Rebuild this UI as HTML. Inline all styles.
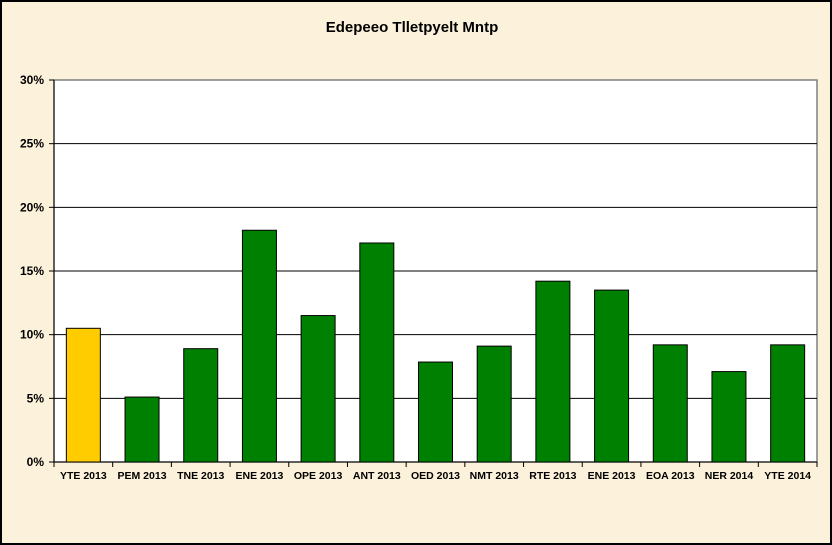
<!DOCTYPE html>
<html><head><meta charset="utf-8"><style>
html,body{margin:0;padding:0;}
body{width:832px;height:545px;overflow:hidden;background:#fcf1da;}
svg{display:block;font-family:"Liberation Sans",Arial,sans-serif;}
</style></head><body>
<svg id="chart" width="832" height="545">
<rect x="1" y="1" width="830" height="543" fill="#fcf1da" stroke="#000" stroke-width="2"/>
<text x="412" y="32" text-anchor="middle" font-size="15" font-weight="bold">Edepeeo Tlletpyelt Mntp</text>
<rect x="54" y="80" width="763" height="382" fill="#fff" stroke="#808080" stroke-width="1.5"/>
<g id="grid"></g><g id="bars"></g><g id="axes"></g>
</svg>
<script>
const categories=["YTE 2013","PEM 2013","TNE 2013","ENE 2013","OPE 2013","ANT 2013","OED 2013","NMT 2013","RTE 2013","ENE 2013","EOA 2013","NER 2014","YTE 2014"];
const values=[10.5,5.1,8.9,18.2,11.5,17.2,7.85,9.1,14.2,13.5,9.2,7.1,9.2];
const colors=["#ffcc00","#008000","#008000","#008000","#008000","#008000","#008000","#008000","#008000","#008000","#008000","#008000","#008000"];
const ticks=[0,5,10,15,20,25,30];
const tickLabels=["0%","5%","10%","15%","20%","25%","30%"];
const NS="http://www.w3.org/2000/svg";
const L=54,R=817,T=80,B=462,YMAX=30;
const y=v=>B-(v/YMAX)*(B-T);
const slot=(R-L)/categories.length;
const x=i=>L+slot*i;
function mk(tag,attrs,parent){const e=document.createElementNS(NS,tag);for(const k in attrs)e.setAttribute(k,attrs[k]);parent.appendChild(e);return e;}
const grid=document.getElementById('grid'),bars=document.getElementById('bars'),axes=document.getElementById('axes');
ticks.forEach((t,i)=>{
  if(t>0&&t<YMAX){const g=mk('line',{x1:L,x2:R,y1:y(t),y2:y(t),stroke:'#000','stroke-width':1},grid);
  
  }
  const tk=mk('line',{x1:L-5,x2:L,y1:y(t),y2:y(t),stroke:'#000'},axes);
  
  
  const lb=mk('text',{x:L-10,y:y(t)+4,'text-anchor':'end','font-size':12,'font-weight':'bold'},axes);
  lb.textContent=tickLabels[i];
  
  
});
const bw=34;
categories.forEach((c,i)=>{
  const cx=x(i)+slot/2;
  const b=mk('rect',{x:cx-bw/2,y:y(values[i]),width:bw,height:B-y(values[i]),fill:colors[i],stroke:'#000','stroke-width':1},bars);
  
  
  const tk=mk('line',{x1:x(i),x2:x(i),y1:B,y2:B+5,stroke:'#000'},axes);
  
  
  const lb=mk('text',{x:cx,y:B+17,'text-anchor':'middle','font-size':10.5,'font-weight':'bold'},axes);
  lb.textContent=c;
  
  
});
const tkE=mk('line',{x1:R,x2:R,y1:B,y2:B+5,stroke:'#000'},axes);


const ya=mk('line',{x1:L,x2:L,y1:T,y2:B,stroke:'#000'},axes);


const xa=mk('line',{x1:L,x2:R,y1:B,y2:B,stroke:'#000'},axes);


</script>
</body></html>
